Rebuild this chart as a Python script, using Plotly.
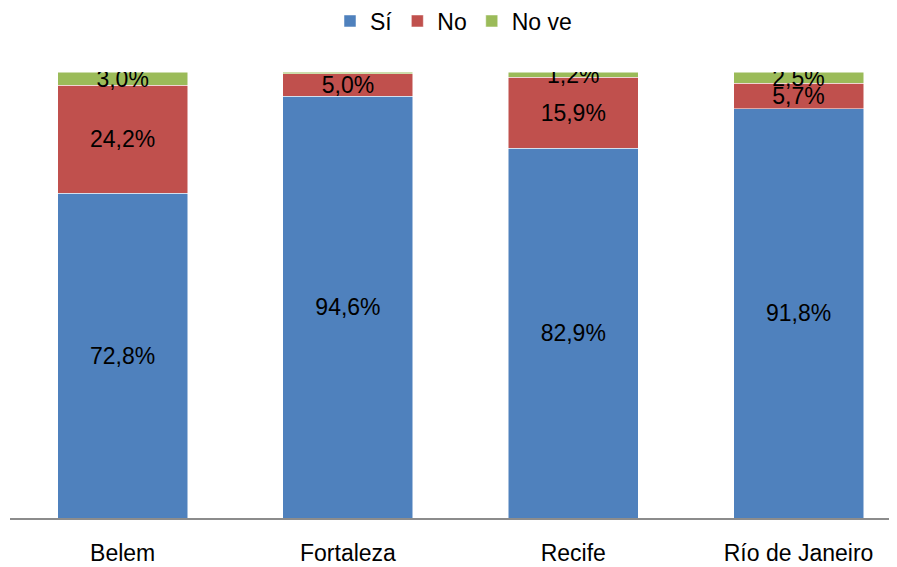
import plotly.graph_objects as go

categories = ["Belem", "Fortaleza", "Recife", "Río de Janeiro"]
si = [72.8, 94.6, 82.9, 91.8]
no = [24.2, 5.0, 15.9, 5.7]
no_ve = [3.0, 0.4, 1.2, 2.5]
no_ve_labels = ["3,0%", "", "1,2%", "2,5%"]

def fmt(v):
    return f"{v:.1f}%".replace(".", ",")

FONT = "Liberation Sans Narrow, Liberation Sans, Arial"

fig = go.Figure()
fig.add_bar(x=categories, y=si, name="Sí", marker_color="#4F81BD",
            text=[fmt(v) for v in si])
fig.add_bar(x=categories, y=no, name="No", marker_color="#C0504D",
            text=[fmt(v) for v in no])
fig.add_bar(x=categories, y=no_ve, name="No ve", marker_color="#9BBB59",
            text=no_ve_labels)

fig.update_traces(textposition="inside", insidetextanchor="middle",
                  textfont=dict(color="black", size=23, family=FONT),
                  marker_line=dict(color="white", width=0.5),
                  constraintext="none", width=0.577)

# page body has an 8px margin, so the figure is sized to the remaining window
fig.update_layout(
    barmode="stack",
    width=889, height=559,
    margin=dict(l=2, r=0, t=64, b=49, autoexpand=False),
    plot_bgcolor="white", paper_bgcolor="white",
    font=dict(family=FONT, size=23, color="black"),
    uniformtext=dict(minsize=23, mode="show"),
    legend=dict(orientation="h", x=0.5, xanchor="center", yref="container",
                y=0.9767, yanchor="middle",
                font=dict(size=23, family=FONT), itemwidth=30, traceorder="normal"),
    xaxis=dict(range=[-0.5, 3.437], showline=True, linecolor="#8C8C8C", linewidth=2,
               ticks="", ticklabelstandoff=13, showgrid=False, automargin=False,
               tickfont=dict(size=23)),
    yaxis=dict(range=[0, 100], visible=False, showgrid=False, automargin=False),
)

fig.write_html("out.html")
